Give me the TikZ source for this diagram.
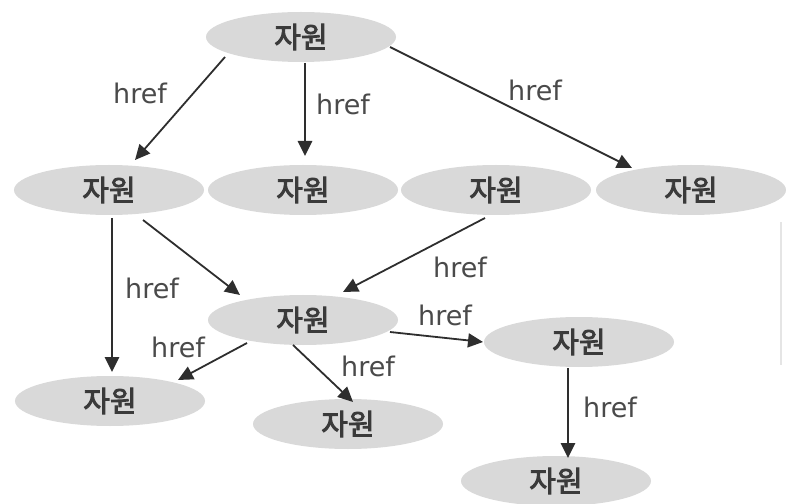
\documentclass[tikz,border=0pt]{standalone}
\usepackage{fontspec}
\newfontfamily\krfont[FakeBold=3]{Noto Sans CJK KR}
\newfontfamily\lblfont{DejaVu Sans}
\usetikzlibrary{shapes.geometric,arrows.meta}

\definecolor{resfill}{HTML}{D9D9D9}
\definecolor{restext}{HTML}{3A3A3A}
\definecolor{linkcol}{HTML}{2E2E2E}
\definecolor{lblcol}{HTML}{4A4A4A}

\tikzset{
  res/.style={ellipse, fill=resfill, draw=none, minimum width=190bp,
    minimum height=50bp, inner sep=0pt, text=restext,
    font=\krfont\fontsize{29bp}{30bp}\selectfont},
  link/.style={draw=linkcol, line width=1.8bp,
    -{Triangle[length=15bp,width=14bp]}},
  thicklink/.style={link, line width=2.8bp},
  lbl/.style={inner sep=0pt, text=lblcol,
    font=\lblfont\fontsize{27bp}{28bp}\selectfont},
}

\begin{document}
\begin{tikzpicture}[x=1bp, y=-1bp]
  \useasboundingbox (0,0) rectangle (786,504);

  % resources
  \node[res] (T)  at (301,37)  {자원};
  \node[res] (A)  at (109,190) {자원};
  \node[res] (B)  at (303,190) {자원};
  \node[res] (C)  at (496,190) {자원};
  \node[res] (D)  at (691,190) {자원};
  \node[res] (M)  at (303,320) {자원};
  \node[res] (R)  at (579,342) {자원};
  \node[res] (L)  at (110,401) {자원};
  \node[res] (BM) at (348,424) {자원};
  \node[res] (BR) at (556,481) {자원};

  % hyperlinks
  \draw[link]      ([shift={(-76,20)}]T.center) -- ([shift={(26,-30)}]A.center);
  \draw[thicklink] ([shift={(4,26)}]T.center)   -- ([shift={(2,-34)}]B.center);
  \draw[link]      ([shift={(89,10)}]T.center)  -- ([shift={(-59,-22)}]D.center);
  \draw[thicklink] ([shift={(3,28)}]A.center)   -- ([shift={(2,-29)}]L.center);
  \draw[link]      ([shift={(34,30)}]A.center)  -- ([shift={(-63,-25)}]M.center);
  \draw[link]      ([shift={(-11,28)}]C.center) -- ([shift={(40,-28)}]M.center);
  \draw[link]      ([shift={(87,12)}]M.center)  -- ([shift={(-96,0)}]R.center);
  \draw[link]      ([shift={(-56,23)}]M.center) -- ([shift={(68,-21)}]L.center);
  \draw[link]      ([shift={(-10,25)}]M.center) -- ([shift={(5,-22)}]BM.center);
  \draw[thicklink] ([shift={(-11,26)}]R.center) -- ([shift={(12,-23)}]BR.center);

  % link labels
  \node[lbl] (h1)  at (140,93)  {href};
  \node[lbl] (h2)  at (343,104) {href};
  \node[lbl] (h3)  at (535,90)  {href};
  \node[lbl] (h4)  at (152,288) {href};
  \node[lbl] (h6)  at (460,267) {href};
  \node[lbl] (h7)  at (445,315) {href};
  \node[lbl] (h8)  at (178,347) {href};
  \node[lbl] (h9)  at (368,366) {href};
  \node[lbl] (h10) at (610,407) {href};

  % faint rule at the right edge
  \draw[draw=black!10, line width=2bp] (781,222) -- (781,365);
\end{tikzpicture}
\end{document}
